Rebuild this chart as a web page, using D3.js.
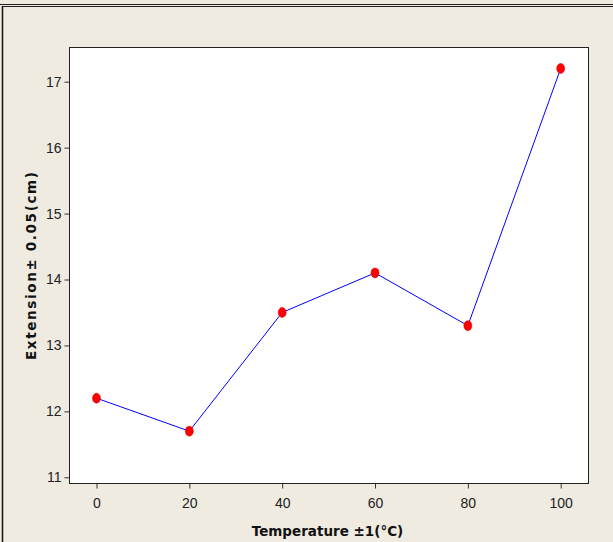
<!DOCTYPE html>
<html>
<head>
<meta charset="utf-8">
<script src="https://cdn.jsdelivr.net/npm/d3@7"></script>
<style>
  body { margin: 0; background: #efebe1; }
  svg { display: block; }
</style>
</head>
<body>
<svg id="chart"></svg>
<script>
// data
const temperatures = [0, 20, 40, 60, 80, 100];
const extensions = [12.2, 11.7, 13.5, 14.1, 13.3, 17.2];
const xTicks = [0, 20, 40, 60, 80, 100];
const yTicks = [11, 12, 13, 14, 15, 16, 17];

const width = 613, height = 542;
const plot = { left: 69, top: 47, right: 588, bottom: 483 };

const svg = d3.select("#chart")
  .attr("width", width)
  .attr("height", height);

// beige panel with its frame lines
svg.append("rect")
  .attr("width", width).attr("height", height)
  .attr("fill", "#efebe1");
svg.append("line")
  .attr("x1", 0).attr("x2", width).attr("y1", 4.5).attr("y2", 4.5)
  .attr("stroke", "#222").attr("stroke-width", 1);
svg.append("line")
  .attr("x1", 2.5).attr("x2", width).attr("y1", 6.5).attr("y2", 6.5)
  .attr("stroke", "#222").attr("stroke-width", 1);
svg.append("line")
  .attr("x1", 2.5).attr("x2", 2.5).attr("y1", 6).attr("y2", height)
  .attr("stroke", "#111").attr("stroke-width", 1.5);

const x = d3.scaleLinear().domain([0, 100]).range([96.5, 560.7]);
const y = d3.scaleLinear().domain([11, 17]).range([477.3, 81.7]);

// plot area
svg.append("rect")
  .attr("x", plot.left + 0.5).attr("y", plot.top + 0.5)
  .attr("width", plot.right - plot.left).attr("height", plot.bottom - plot.top)
  .attr("fill", "#fff").attr("stroke", "#222").attr("stroke-width", 1);

const font = "'Liberation Sans', Arial, sans-serif";

const xAxis = svg.append("g")
  .attr("transform", `translate(0,${plot.bottom + 0.5})`)
  .call(d3.axisBottom(x).tickValues(xTicks).tickSize(5).tickPadding(10).tickFormat(d3.format("d")));
const yAxis = svg.append("g")
  .attr("transform", `translate(${plot.left + 0.5},0)`)
  .call(d3.axisLeft(y).tickValues(yTicks).tickSize(5).tickPadding(3).tickFormat(d3.format("d")));

[xAxis, yAxis].forEach(g => {
  g.select(".domain").remove();
  g.selectAll(".tick line").attr("stroke", "#333");
  g.selectAll(".tick text")
    .attr("fill", "#222")
    .style("font-family", font)
    .style("font-size", "14px");
});

// line and markers
const line = d3.line()
  .x((d, i) => x(temperatures[i]))
  .y(d => y(d));

svg.append("path")
  .datum(extensions)
  .attr("d", line)
  .attr("fill", "none")
  .attr("stroke", "#0000ff")
  .attr("stroke-width", 1);

svg.selectAll("ellipse.pt")
  .data(extensions)
  .join("ellipse")
  .attr("class", "pt")
  .attr("cx", (d, i) => x(temperatures[i]))
  .attr("cy", d => y(d))
  .attr("rx", 4)
  .attr("ry", 5)
  .attr("fill", "#ff0000")
  .attr("stroke", "#d00000")
  .attr("stroke-width", 0.5);

// axis titles
svg.append("text")
  .attr("x", (plot.left + plot.right) / 2 - 1)
  .attr("y", 536)
  .attr("text-anchor", "middle")
  .style("font-family", "'DejaVu Sans', sans-serif")
  .style("font-weight", "bold")
  .style("font-size", "13.5px")
  .attr("fill", "#111")
  .text("Temperature ±1(°C)");

svg.append("text")
  .attr("transform", "translate(36,266) rotate(-90)")
  .attr("text-anchor", "middle")
  .attr("textLength", 188)
  .attr("lengthAdjust", "spacing")
  .style("font-family", "'DejaVu Sans', sans-serif")
  .style("font-weight", "bold")
  .style("font-size", "13.5px")
  .attr("fill", "#111")
  .text("Extension± 0.05(cm)");
</script>
</body>
</html>
